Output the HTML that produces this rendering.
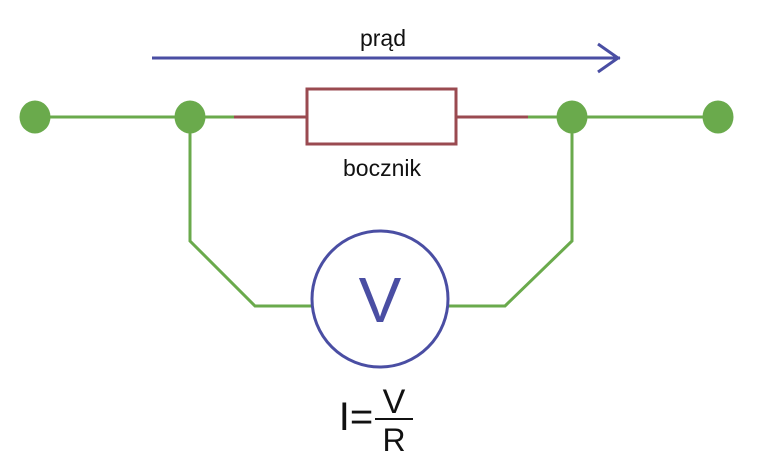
<!DOCTYPE html>
<html><head><style>body{margin:0;background:#fff}svg{display:block}</style></head>
<body>
<svg width="770" height="454" viewBox="0 0 770 454" xmlns="http://www.w3.org/2000/svg">
<g fill="none" stroke-width="3">
<line x1="152" y1="58" x2="620" y2="58" stroke="#4a4ea3"/>
<polyline points="598,44 618,58 598,72" stroke="#4a4ea3"/>
<line x1="35" y1="117" x2="234" y2="117" stroke="#6aaa4c"/>
<line x1="528" y1="117" x2="718" y2="117" stroke="#6aaa4c"/>
<line x1="234" y1="117" x2="307" y2="117" stroke="#9a4a50"/>
<line x1="456" y1="117" x2="528" y2="117" stroke="#9a4a50"/>
<rect x="307" y="89" width="149" height="55" stroke="#9a4a50"/>
<polyline points="190,117 190,241 255,306 313,306" stroke="#6aaa4c"/>
<polyline points="447,306 505,306 572,241 572,117" stroke="#6aaa4c"/>
<circle cx="380" cy="299" r="68" stroke="#4a4ea3"/>
<line x1="375" y1="419" x2="413" y2="419" stroke="#111" stroke-width="2"/>
</g>
<g fill="#6aaa4c">
<ellipse cx="35" cy="117" rx="15.5" ry="16.5"/><ellipse cx="190" cy="117" rx="15.5" ry="16.5"/>
<ellipse cx="572" cy="117" rx="15.5" ry="16.5"/><ellipse cx="718" cy="117" rx="15.5" ry="16.5"/>
</g>
<g font-family="'Liberation Sans',sans-serif" fill="#111" text-anchor="middle">
<text x="383" y="46" font-size="23">prąd</text>
<text x="382" y="176" font-size="23">bocznik</text>
<text x="380" y="322" font-size="64" fill="#4a4ea3">V</text>
<text x="356" y="430" font-size="40">I=</text>
<text x="394" y="413" font-size="34">V</text>
<text x="394" y="451" font-size="32">R</text>
</g>
</svg>
</body></html>
